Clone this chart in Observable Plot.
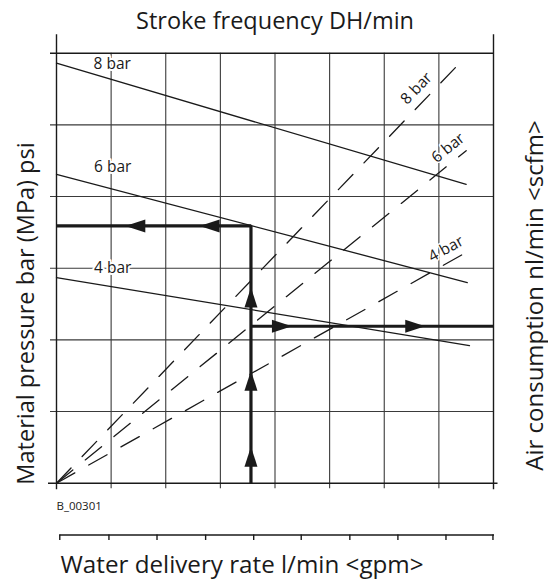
<!DOCTYPE html>
<html>
<head>
<meta charset="utf-8">
<script src="https://cdn.jsdelivr.net/npm/d3@7"></script>
<script src="https://cdn.jsdelivr.net/npm/@observablehq/plot@0.6"></script>
<style>
  html, body { margin: 0; padding: 0; background: #fff; }
  #chart svg { display: block; }
</style>
</head>
<body>
<div id="chart"></div>
<script>
// ---- texts ----
const title = "Stroke frequency DH/min";
const leftLabel = "Material pressure bar (MPa) psi";
const rightLabel = "Air consumption nl/min <scfm>";
const bottomLabel = "Water delivery rate l/min <gpm>";
const figureCode = "B_00301";

// ---- grid (chart units: 8 columns x 6 rows) ----
const gridX = [1, 2, 3, 4, 5, 6, 7];
const gridY = [1, 2, 3, 4, 5];
const frameX = [0, 8];
const gpmTicks = [0.06, 0.96, 1.84, 2.73, 3.61, 4.48, 5.37, 6.25, 7.13, 7.99];

// ---- curves per pressure ----
const pressures = ["8 bar", "6 bar", "4 bar"];
// stroke frequency (solid)
const freqStartY = [5.86, 4.31, 2.87];
const freqEndX = [7.50, 7.52, 7.56];
const freqEndY = [4.17, 2.80, 1.92];
const freqLabelX = [1.02, 1.03, 1.03];
const freqLabelY = [5.78, 4.34, 2.94];
// air consumption (dashed, from origin)
const airEndX = [7.38, 7.50, 7.50];
const airEndY = [5.86, 4.64, 3.22];
const airLabelX = [6.59, 7.17, 7.13];
const airLabelY = [5.51, 4.68, 3.27];
const airLabelAngle = [-46, -39, -29];

// ---- reading example (thick arrows) ----
const flowUpX = [3.56, 3.56, 0];
const flowUpY = [0, 3.59, 3.59];
const flowRightX = [3.56, 8];
const flowRightY = [2.19, 2.19];
const arrowX = [3.56, 3.56, 3.56, 1.26, 2.62, 4.31, 6.75];
const arrowY = [0.51, 1.57, 2.73, 3.59, 3.59, 2.19, 2.19];
const arrowDir = [0, 0, 0, -90, -90, 90, 90];

// ---- build tables ----
const freqLines = pressures.flatMap((p, i) => [
  {p, x: 0, y: freqStartY[i]},
  {p, x: freqEndX[i], y: freqEndY[i]}
]);
const airLines = pressures.flatMap((p, i) => [
  {p, x: 0, y: 0},
  {p, x: airEndX[i], y: airEndY[i]}
]);
const freqLabels = pressures.map((p, i) => ({p, x: freqLabelX[i], y: freqLabelY[i]}));
const airLabels = pressures.map((p, i) => ({p, x: airLabelX[i], y: airLabelY[i], a: airLabelAngle[i]}));
const flowUp = flowUpX.map((x, i) => ({x, y: flowUpY[i]}));
const flowRight = flowRightX.map((x, i) => ({x, y: flowRightY[i]}));
const arrows = arrowX.map((x, i) => ({x, y: arrowY[i], r: arrowDir[i]}));

// arrowhead symbol: tip at origin, pointing up
const arrowHead = {
  draw(ctx) {
    ctx.moveTo(0, 0);
    ctx.lineTo(6.5, 20);
    ctx.lineTo(-6.5, 20);
    ctx.closePath();
  }
};

const ink = "#1a1a1a";
const font = "'Open Sans', sans-serif";

const chart = Plot.plot({
  width: 548,
  height: 580,
  marginLeft: 56,
  marginRight: 55,
  marginTop: 52.7,
  marginBottom: 97.3,
  x: {domain: [0, 8], axis: null},
  y: {domain: [0, 6], axis: null},
  style: {fontFamily: font, color: ink, background: "#fff"},
  marks: [
    // interior grid
    Plot.ruleX(gridX, {insetBottom: -5.5, stroke: "#3a3a3a", strokeWidth: 1.1}),
    Plot.ruleY(gridY, {insetLeft: -6, stroke: "#3a3a3a", strokeWidth: 1.1}),
    // frame
    Plot.ruleX(frameX, {insetTop: -18.5, insetBottom: -6.5, stroke: ink, strokeWidth: 1.4}),
    Plot.ruleY([6], {insetLeft: -6, stroke: ink, strokeWidth: 1.4}),
    Plot.ruleY([0], {insetLeft: -8, insetRight: -4.5, stroke: ink, strokeWidth: 1.4}),
    // secondary (water delivery) axis
    Plot.ruleY([0], {insetLeft: 3.3, insetRight: -1, dy: 51.8, stroke: ink, strokeWidth: 1.4}),
    Plot.ruleX(gpmTicks, {y1: 0, y2: 0, insetBottom: -5.5, dy: 51.8, stroke: ink, strokeWidth: 1.4}),
    // curves
    Plot.line(freqLines, {x: "x", y: "y", z: "p", stroke: ink, strokeWidth: 1.3}),
    Plot.line(airLines, {x: "x", y: "y", z: "p", stroke: ink, strokeWidth: 1.3, strokeDasharray: "21,16"}),
    // curve labels
    Plot.text(freqLabels, {x: "x", y: "y", text: "p", lineAnchor: "bottom", fontSize: 15.5,
      fill: ink, stroke: "white", strokeWidth: 4}),
    Plot.text(airLabels, {x: "x", y: "y", text: "p", rotate: "a", fontSize: 15.5,
      fill: ink, stroke: "white", strokeWidth: 3}),
    // reading example
    Plot.line(flowUp, {x: "x", y: "y", stroke: ink, strokeWidth: 3.2, strokeLinejoin: "miter", strokeLinecap: "butt"}),
    Plot.line(flowRight, {x: "x", y: "y", stroke: ink, strokeWidth: 3.2, strokeLinecap: "butt"}),
    Plot.dot(arrows, {x: "x", y: "y", rotate: "r", symbol: arrowHead, r: 5, fill: ink, stroke: "none"}),
    // titles
    Plot.text([title], {frameAnchor: "top", textAnchor: "middle", lineAnchor: "bottom", dy: -24.7, fontSize: 23.5, fill: ink}),
    Plot.text([bottomLabel], {frameAnchor: "bottom-left", textAnchor: "start", lineAnchor: "bottom",
      dx: 4, dy: 89.5, fontSize: 24.2, fill: ink}),
    Plot.text([figureCode], {frameAnchor: "bottom-left", textAnchor: "start", lineAnchor: "bottom",
      dx: 0, dy: 26.3, fontSize: 11.5, fill: ink}),
    Plot.text([leftLabel], {frameAnchor: "left", textAnchor: "middle", rotate: -90, lineAnchor: "bottom",
      dx: -22.5, dy: 45.3, fontSize: 23.5, fill: ink}),
    Plot.text([rightLabel], {frameAnchor: "right", textAnchor: "middle", rotate: -90, lineAnchor: "bottom",
      dx: 49, dy: 27.3, fontSize: 24, fill: ink})
  ]
});

document.getElementById("chart").appendChild(chart);
</script>
</body>
</html>
